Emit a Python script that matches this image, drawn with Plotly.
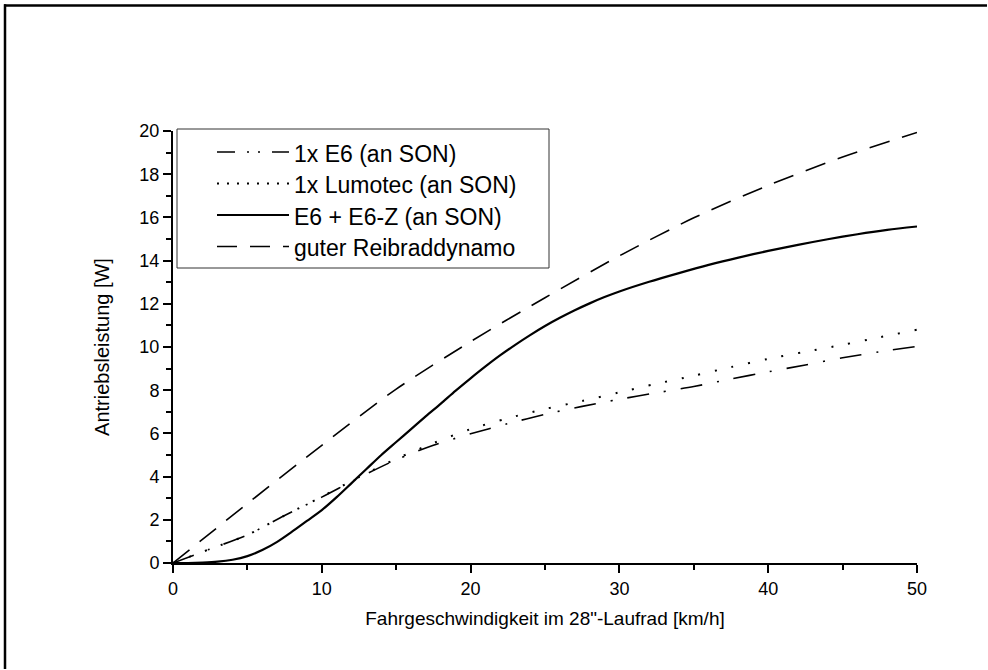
import plotly.graph_objects as go

# ---------------- data ----------------
speed_e6 = [0, 2.5, 5, 7.5, 10, 12.5, 15, 17.5, 20, 22.5, 25, 27.5, 30, 32.5, 35, 37.5, 40, 42.5, 45, 47.5, 50]
power_e6 = [0, 0.65, 1.3, 2.2, 3.05, 3.95, 4.78, 5.45, 5.98, 6.45, 6.88, 7.25, 7.58, 7.88, 8.17, 8.52, 8.85, 9.17, 9.5, 9.78, 10.03]
power_lumotec = [0, 0.65, 1.3, 2.2, 3.07, 3.98, 4.82, 5.55, 6.2, 6.7, 7.13, 7.5, 7.9, 8.3, 8.67, 9.07, 9.45, 9.78, 10.1, 10.45, 10.8]

speed_e6z = [0, 1, 2, 3, 4, 5, 6, 7, 8, 9, 10, 11, 12, 13, 14, 15, 16, 17, 18, 19, 20, 21, 22, 23, 24, 25, 26, 27, 28, 29, 30,
             32, 34, 36, 38, 40, 42, 44, 46, 48, 50]
power_e6z = [0, 0.0, 0.02, 0.06, 0.15, 0.32, 0.6, 0.98, 1.45, 1.95, 2.45, 3.05, 3.7, 4.35, 5.0, 5.6, 6.2, 6.8, 7.38, 7.98, 8.55,
             9.1, 9.62, 10.1, 10.55, 10.97, 11.35, 11.7, 12.02, 12.31, 12.57,
             13.02, 13.42, 13.8, 14.14, 14.45, 14.73, 14.99, 15.22, 15.42, 15.58]

speed_dyn = [0, 5, 10, 15, 20, 25, 30, 35, 40, 45, 50]
power_dyn = [0, 2.75, 5.45, 8.05, 10.25, 12.28, 14.22, 15.98, 17.48, 18.8, 19.93]

names = ["1x E6 (an SON)", "1x Lumotec (an SON)", "E6 + E6-Z (an SON)", "guter Reibraddynamo"]

x_ticks = [0, 10, 20, 30, 40, 50]
y_ticks = [0, 2, 4, 6, 8, 10, 12, 14, 16, 18, 20]

# ---------------- layout constants ----------------
W, H = 988, 670
ML, MR, MT, MB = 173, 71, 131, 107
PW, PH = W - ML - MR, H - MT - MB
FONT = "Liberation Sans, Arial, sans-serif"


def px(xp):
    return (xp - ML) / PW


def py(yp):
    return (H - MB - yp) / PH


dash_e6 = "22px,15px,2px,15px"
dash_lumo = "2px,15px"
dash_dyn = "21px,13px"

fig = go.Figure()
fig.add_trace(go.Scatter(x=speed_e6, y=power_e6, mode="lines", name=names[0],
                         line=dict(color="black", width=1.6, dash=dash_e6, shape="spline", smoothing=0.8),
                         showlegend=False))
fig.add_trace(go.Scatter(x=speed_e6, y=power_lumotec, mode="lines", name=names[1],
                         line=dict(color="black", width=2, dash=dash_lumo, shape="spline", smoothing=0.8),
                         showlegend=False))
fig.add_trace(go.Scatter(x=speed_e6z, y=power_e6z, mode="lines", name=names[2],
                         line=dict(color="black", width=2.2, shape="spline", smoothing=0.8),
                         showlegend=False))
fig.add_trace(go.Scatter(x=speed_dyn, y=power_dyn, mode="lines", name=names[3],
                         line=dict(color="black", width=1.6, dash=dash_dyn, shape="spline", smoothing=0.8),
                         showlegend=False))

shapes = []
annotations = []
# outer frame (top and left edges only)
shapes.append(dict(type="line", xref="paper", yref="paper", x0=px(4), x1=px(W - 1), y0=py(5.5), y1=py(5.5),
                   line=dict(color="black", width=2.5)))
shapes.append(dict(type="line", xref="paper", yref="paper", x0=px(5), x1=px(5), y0=py(4.3), y1=py(H - 1),
                   line=dict(color="black", width=2.5)))
# legend box
shapes.append(dict(type="rect", xref="paper", yref="paper", x0=px(177), x1=px(549), y0=py(268), y1=py(129),
                   line=dict(color="#333333", width=1), fillcolor="white", layer="above"))
rows = [152, 183.5, 215, 246.5]
dashes = ["18px,12px,2px,9px,2px,12px", "2px,8px", None, "20px,13px"]
widths = [1.6, 2, 2.2, 1.6]
for i, (r, d, w) in enumerate(zip(rows, dashes, widths)):
    ln = dict(color="black", width=w)
    if d:
        ln["dash"] = d
    shapes.append(dict(type="line", xref="paper", yref="paper", x0=px(217), x1=px(289), y0=py(r), y1=py(r),
                       line=ln, layer="above"))
    annotations.append(dict(xref="paper", yref="paper", x=px(292), y=py(r + 1.5), xanchor="left", yanchor="middle",
                            text=names[i], showarrow=False, font=dict(family=FONT, size=23, color="black")))

fig.update_layout(
    width=W, height=H,
    margin=dict(l=ML, r=MR, t=MT, b=MB),
    paper_bgcolor="white", plot_bgcolor="white",
    font=dict(family=FONT, size=19, color="black"),
    shapes=shapes, annotations=annotations,
    showlegend=False,
    xaxis=dict(range=[0, 50], tickvals=x_ticks, ticks="outside", ticklen=8, tickwidth=2, tickcolor="black",
               showline=True, linecolor="black", linewidth=2, showgrid=False, zeroline=False,
               minor=dict(dtick=5, ticks="outside", ticklen=5, tickwidth=2, tickcolor="black"),
               tickfont=dict(size=18),
               title=dict(text="Fahrgeschwindigkeit im 28\"-Laufrad [km/h]", font=dict(size=19), standoff=14)),
    yaxis=dict(range=[0, 20], tickvals=y_ticks, ticks="outside", ticklen=8, tickwidth=2, tickcolor="black",
               showline=True, linecolor="black", linewidth=2, showgrid=False, zeroline=False,
               minor=dict(dtick=1, ticks="outside", ticklen=5, tickwidth=2, tickcolor="black"),
               tickfont=dict(size=18),
               title=dict(text="Antriebsleistung [W]", font=dict(size=20), standoff=24)),
)

fig.write_html("out.html", config={"displayModeBar": False},
               post_script="document.body.style.margin='0';document.body.style.overflow='hidden';")
